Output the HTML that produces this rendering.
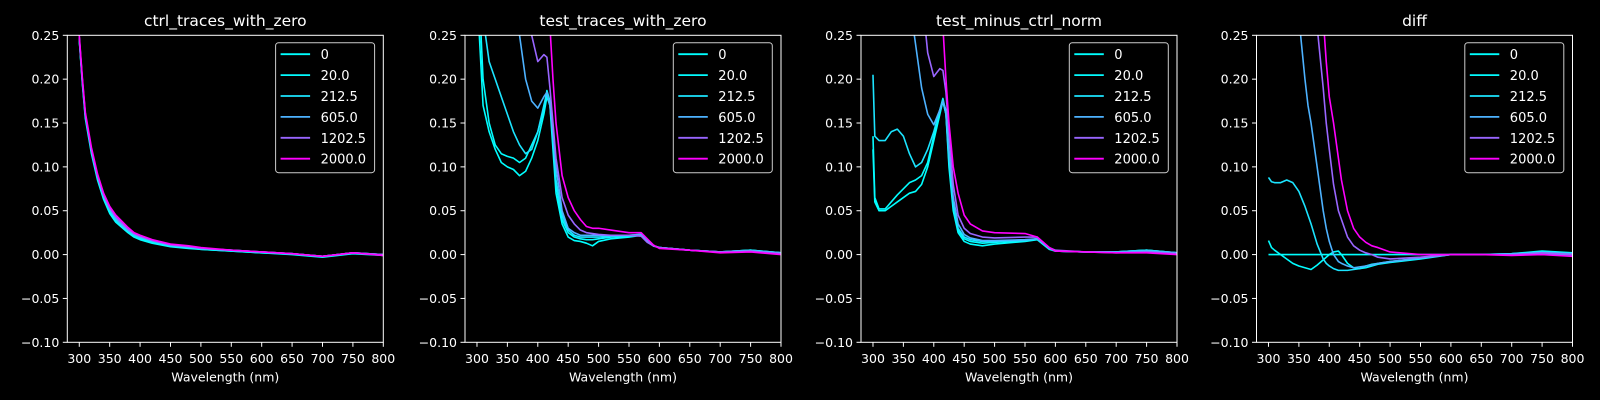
<!DOCTYPE html>
<html><head><meta charset="utf-8"><style>
html,body{margin:0;padding:0;background:#000;}
svg{display:block;font-family:"DejaVu Sans","Liberation Sans",sans-serif;}
</style></head><body>
<svg id="fig" width="1600" height="400" viewBox="0 0 1600 400" xmlns="http://www.w3.org/2000/svg">
<rect width="1600" height="400" fill="#000"/>
</svg>
<script>
const seriesLabels = ["0","20.0","212.5","605.0","1202.5","2000.0"];
const seriesColors = ["rgb(0,255,255)","rgb(3,252,255)","rgb(27,228,255)","rgb(77,178,255)","rgb(153,102,255)","rgb(255,0,255)"];
const panelTitles = ["ctrl_traces_with_zero","test_traces_with_zero","test_minus_ctrl_norm","diff"];
const xTicks = [300,350,400,450,500,550,600,650,700,750,800];
const yTicks = [-0.10,-0.05,0.00,0.05,0.10,0.15,0.20,0.25];

// panel 1 : ctrl
const wl1 = [300,305,310,320,330,340,350,360,370,380,390,400,420,450,480,500,550,600,650,700,750,800];
const ctrl0 = [0.245,0.195,0.155,0.115,0.085,0.063,0.047,0.037,0.031,0.025,0.020,0.017,0.013,0.009,0.007,0.006,0.004,0.002,0.000,-0.003,0.001,-0.001];
const ctrl1 = [0.245,0.197,0.157,0.117,0.087,0.065,0.049,0.039,0.032,0.026,0.021,0.018,0.014,0.010,0.008,0.006,0.004,0.002,0.001,-0.002,0.002,0.000];
const ctrl2 = [0.246,0.198,0.158,0.118,0.088,0.066,0.051,0.040,0.033,0.027,0.022,0.019,0.015,0.010,0.008,0.007,0.005,0.003,0.001,-0.002,0.002,0.000];
const ctrl3 = [0.247,0.199,0.159,0.119,0.089,0.067,0.052,0.041,0.034,0.028,0.023,0.020,0.016,0.011,0.009,0.007,0.005,0.003,0.001,-0.002,0.002,0.000];
const ctrl4 = [0.248,0.200,0.160,0.120,0.090,0.068,0.053,0.043,0.036,0.029,0.024,0.021,0.016,0.011,0.009,0.007,0.005,0.003,0.001,-0.002,0.002,0.000];
const ctrl5 = [0.250,0.202,0.162,0.122,0.092,0.070,0.055,0.045,0.038,0.031,0.025,0.022,0.017,0.012,0.010,0.008,0.005,0.003,0.001,-0.002,0.002,-0.001];

// panel 2 : test
const wl2 = [300,310,320,330,340,350,360,370,380,390,400,410,415,420,425,430,440,450,460,470,480,490,500,520,550,570,580,590,600,650,700,750,800];
const test0 = [0.30,0.17,0.14,0.12,0.105,0.10,0.097,0.090,0.095,0.110,0.130,0.160,0.180,0.170,0.120,0.070,0.035,0.020,0.016,0.015,0.013,0.010,0.015,0.018,0.020,0.022,0.015,0.010,0.008,0.005,0.003,0.005,0.002];
const test1 = [0.35,0.20,0.15,0.125,0.115,0.112,0.110,0.105,0.110,0.125,0.140,0.165,0.187,0.175,0.130,0.080,0.040,0.025,0.020,0.018,0.017,0.017,0.018,0.020,0.021,0.022,0.016,0.010,0.008,0.005,0.003,0.005,0.002];
const test2 = [0.40,0.27,0.22,0.20,0.18,0.16,0.14,0.125,0.115,0.120,0.140,0.170,0.185,0.170,0.130,0.085,0.045,0.028,0.022,0.020,0.020,0.020,0.020,0.021,0.022,0.023,0.016,0.010,0.008,0.005,0.003,0.005,0.002];
const test3 = [0.60,0.50,0.45,0.40,0.36,0.33,0.30,0.25,0.20,0.175,0.167,0.180,0.185,0.170,0.140,0.100,0.050,0.030,0.025,0.022,0.022,0.022,0.022,0.022,0.022,0.023,0.016,0.010,0.008,0.005,0.003,0.004,0.002];
const test4 = [0.80,0.70,0.62,0.55,0.50,0.46,0.42,0.38,0.35,0.25,0.220,0.228,0.225,0.190,0.150,0.110,0.065,0.045,0.035,0.028,0.025,0.024,0.023,0.022,0.022,0.021,0.014,0.010,0.008,0.005,0.003,0.004,0.001];
const test5 = [0.90,0.80,0.72,0.65,0.60,0.56,0.52,0.49,0.46,0.44,0.42,0.40,0.34,0.26,0.20,0.150,0.090,0.065,0.050,0.040,0.032,0.030,0.030,0.028,0.025,0.025,0.018,0.011,0.007,0.005,0.002,0.003,0.000];

// panel 3 : test minus ctrl
const wl3 = [300,303,310,320,330,340,350,360,370,380,390,400,410,415,420,425,432,440,450,460,480,500,550,570,590,600,650,700,750,800];
const norm0 = [0.120,0.060,0.050,0.050,0.055,0.060,0.065,0.070,0.072,0.080,0.100,0.130,0.160,0.175,0.160,0.100,0.050,0.025,0.015,0.012,0.010,0.012,0.015,0.017,0.006,0.004,0.003,0.003,0.005,0.002];
const norm1 = [0.135,0.065,0.052,0.052,0.060,0.068,0.075,0.082,0.085,0.090,0.105,0.135,0.165,0.178,0.162,0.105,0.055,0.028,0.018,0.015,0.013,0.014,0.016,0.018,0.007,0.004,0.003,0.003,0.005,0.002];
const norm2 = [0.205,0.135,0.130,0.130,0.140,0.143,0.135,0.115,0.100,0.105,0.120,0.140,0.165,0.175,0.160,0.110,0.058,0.030,0.020,0.017,0.015,0.015,0.016,0.018,0.007,0.004,0.003,0.003,0.005,0.002];
const norm3 = [0.60,0.55,0.50,0.44,0.40,0.36,0.32,0.29,0.24,0.19,0.160,0.148,0.165,0.175,0.165,0.120,0.065,0.035,0.023,0.019,0.016,0.016,0.017,0.018,0.007,0.004,0.003,0.003,0.004,0.002];
const norm4 = [0.80,0.75,0.70,0.62,0.55,0.50,0.45,0.40,0.35,0.30,0.230,0.203,0.212,0.210,0.185,0.140,0.080,0.045,0.030,0.024,0.020,0.019,0.020,0.020,0.008,0.005,0.003,0.002,0.003,0.001];
const norm5 = [0.90,0.85,0.80,0.72,0.66,0.61,0.57,0.53,0.49,0.46,0.43,0.40,0.32,0.26,0.20,0.150,0.100,0.070,0.045,0.035,0.027,0.025,0.024,0.020,0.008,0.004,0.003,0.002,0.002,0.000];

// panel 4 : diff
const wl4 = [300,305,310,320,330,340,350,360,365,370,380,390,395,400,407,415,420,430,440,450,460,470,480,500,550,600,650,700,750,800];
const diff0 = [0,0,0,0,0,0,0,0,0,0,0,0,0,0,0,0,0,0,0,0,0,0,0,0,0,0,0,0,0,0];
const diff1 = [0.016,0.008,0.005,0.000,-0.005,-0.010,-0.013,-0.015,-0.016,-0.017,-0.012,-0.006,-0.003,0.000,0.003,0.004,0.000,-0.010,-0.015,-0.016,-0.015,-0.013,-0.011,-0.009,-0.005,0.000,0.000,0.001,0.004,0.002];
const diff2 = [0.088,0.083,0.082,0.082,0.085,0.082,0.072,0.055,0.045,0.035,0.012,-0.005,-0.010,-0.013,-0.016,-0.018,-0.018,-0.018,-0.017,-0.016,-0.013,-0.011,-0.010,-0.008,-0.004,0.000,0.000,0.001,0.003,0.001];
const diff3 = [0.60,0.50,0.45,0.40,0.35,0.30,0.27,0.20,0.17,0.15,0.10,0.05,0.03,0.015,0.000,-0.008,-0.010,-0.013,-0.015,-0.014,-0.013,-0.012,-0.010,-0.008,-0.004,0.000,0.000,0.000,0.002,0.001];
const diff4 = [0.80,0.70,0.65,0.58,0.52,0.46,0.42,0.38,0.35,0.33,0.26,0.19,0.15,0.12,0.08,0.05,0.040,0.020,0.010,0.005,0.002,0.000,-0.003,-0.005,-0.003,0.000,0.000,0.000,0.002,0.000];
const diff5 = [0.90,0.80,0.75,0.68,0.62,0.56,0.50,0.45,0.42,0.40,0.33,0.27,0.22,0.18,0.15,0.11,0.085,0.050,0.030,0.020,0.014,0.010,0.008,0.003,0.000,0.000,0.000,-0.001,0.000,-0.002];

const panelWl = [wl1, wl2, wl3, wl4];
const panelSeries = [
  [ctrl0,ctrl1,ctrl2,ctrl3,ctrl4,ctrl5],
  [test0,test1,test2,test3,test4,test5],
  [norm0,norm1,norm2,norm3,norm4,norm5],
  [diff0,diff1,diff2,diff3,diff4,diff5]
];

const NS = "http://www.w3.org/2000/svg";
const svg = document.getElementById('fig');
const lefts = [67.3, 465, 861, 1256.5];
const W = 316, TOP = 35.3, BOT = 342.3;
const XMIN = 280.3, XMAX = 800, YMIN = -0.10, YMAX = 0.25;
function mk(tag, attrs, parent) {
  const e = document.createElementNS(NS, tag);
  for (const k in attrs) e.setAttribute(k, attrs[k]);
  (parent || svg).appendChild(e);
  return e;
}
const defs = mk('defs', {});

panelTitles.forEach((title, p) => {
  const L = lefts[p];
  const sx = v => L + (v - XMIN) / (XMAX - XMIN) * W;
  const sy = v => BOT - (v - YMIN) / (YMAX - YMIN) * (BOT - TOP);
  const g = mk('g', {});
  
  

  const cp = mk('clipPath', {id: 'clip' + p}, defs);
  mk('rect', {x: L, y: TOP, width: W, height: BOT - TOP}, cp);

  const t = mk('text', {x: L + W / 2, y: 26, 'text-anchor': 'middle', fill: '#fff', 'font-size': '15.5'}, g);
  t.textContent = title;
  
  

  const lg = mk('g', {'clip-path': 'url(#clip' + p + ')'}, g);
  panelSeries[p].forEach((vals, i) => {
    const pts = panelWl[p].map((w, j) => sx(w).toFixed(2) + ',' + sy(vals[j]).toFixed(2)).join(' ');
    const pl = mk('polyline', {points: pts, fill: 'none', stroke: seriesColors[i], 'stroke-width': '1.6', 'stroke-linejoin': 'round'}, lg);
    
    
  });

  const fr = mk('rect', {x: L, y: TOP, width: W, height: BOT - TOP, fill: 'none', stroke: '#fff', 'stroke-width': '1'}, g);
  
  

  xTicks.forEach(v => {
    const x = sx(v);
    mk('line', {x1: x, x2: x, y1: BOT, y2: BOT + 4.5, stroke: '#fff', 'stroke-width': '1'}, g);
    const tl = mk('text', {x: x, y: BOT + 20.5, 'text-anchor': 'middle', fill: '#fff', 'font-size': '12.5'}, g);
    tl.textContent = v;
    
    
  });
  yTicks.forEach(v => {
    const y = sy(v);
    mk('line', {x1: L - 4.5, x2: L, y1: y, y2: y, stroke: '#fff', 'stroke-width': '1'}, g);
    const tl = mk('text', {x: L - 8, y: y + 4.5, 'text-anchor': 'end', fill: '#fff', 'font-size': '12.5'}, g);
    tl.textContent = (v < 0 ? '\u2212' : '') + Math.abs(v).toFixed(2);
    
    
  });
  const xl = mk('text', {x: L + W / 2, y: 381.5, 'text-anchor': 'middle', fill: '#fff', 'font-size': '12.5'}, g);
  xl.textContent = 'Wavelength (nm)';
  
  

  const lgx = L + W - 8.7 - 99, lgy = TOP + 7.4;
  const leg = mk('g', {}, g);
  
  
  mk('rect', {x: lgx, y: lgy, width: 99, height: 130, rx: 3, fill: '#000', 'fill-opacity': 0.8, stroke: '#ccc', 'stroke-width': '1'}, leg);
  seriesLabels.forEach((lab, i) => {
    const y = lgy + 11.5 + i * 20.9;
    const e = mk('g', {}, leg);
    
    
    mk('line', {x1: lgx + 5, x2: lgx + 34.5, y1: y, y2: y, stroke: seriesColors[i], 'stroke-width': '1.8'}, e);
    const tx = mk('text', {x: lgx + 45, y: y + 5, fill: '#fff', 'font-size': '13'}, e);
    tx.textContent = lab;
  });
});
</script>
</body></html>
